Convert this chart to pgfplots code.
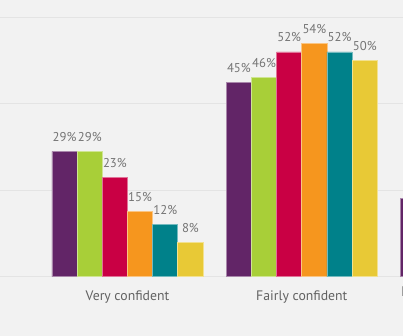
\documentclass[border=0pt]{standalone}
\usepackage{fontspec}
\setmainfont{PT Sans}
\usepackage{pgfplots}
\pgfplotsset{compat=1.18}
\definecolor{bg}{HTML}{F2F2F2}
\definecolor{c1}{HTML}{622567}
\definecolor{c2}{HTML}{A8CF38}
\definecolor{c3}{HTML}{C90044}
\definecolor{c4}{HTML}{F6961E}
\definecolor{c5}{HTML}{00818A}
\definecolor{c6}{HTML}{E8C936}
\definecolor{lbl}{HTML}{747474}
\definecolor{cat}{HTML}{626262}
\definecolor{grd}{HTML}{E4E4E4}
\begin{document}
\begin{tikzpicture}
\fill[bg] (0bp,-59.4bp) rectangle (403bp,276.6bp);
\begin{scope}
\clip (0bp,-59.4bp) rectangle (403bp,276.6bp);
\begin{axis}[
  at={(0bp,0bp)}, anchor=south west,
  scale only axis, width=403bp, height=276.6bp,
  xmin=-0.7315, xmax=1.5806, ymin=0, ymax=64,
  clip=false,
  axis line style={draw=none},
  tick style={draw=none},
  ytick={0,20,40,60}, yticklabels={},
  ymajorgrids, grid style={grd, line width=1bp},
  xtick={0,1}, xticklabels={Very confident, Fairly confident},
  xticklabel style={font=\fontsize{13.8}{15}\selectfont, text=cat, anchor=base, yshift=-20bp},
  ybar=0pt, bar width=25.17bp,
  point meta=explicit symbolic,
  nodes near coords,
  nodes near coords style={font=\fontsize{12.8}{14}\selectfont, text=lbl, anchor=base, yshift=10bp, inner sep=0pt},
]
\addplot[fill=c1, draw=c1!55!white, line width=0.7bp] coordinates {(0,29) [29\%] (1,45) [45\%] (2,18) []};
\addplot[fill=c2, draw=c2!55!white, line width=0.7bp] coordinates {(0,29) [29\%] (1,46) [46\%]};
\addplot[fill=c3, draw=c3!55!white, line width=0.7bp] coordinates {(0,23) [23\%] (1,52) [52\%]};
\addplot[fill=c4, draw=c4!55!white, line width=0.7bp] coordinates {(0,15) [15\%] (1,54) [54\%]};
\addplot[fill=c5, draw=c5!55!white, line width=0.7bp] coordinates {(0,12) [12\%] (1,52) [52\%]};
\addplot[fill=c6, draw=c6!55!white, line width=0.7bp] coordinates {(0,8) [8\%] (1,50) [50\%]};
\node[font=\fontsize{13.8}{15}\selectfont, text=cat, anchor=base west, inner sep=0pt] at (axis cs:2,0) [xshift=-75bp, yshift=-20bp] {Not very confident};
\end{axis}
\end{scope}
\pgfresetboundingbox
\path (0bp,-59.4bp) rectangle (403bp,276.6bp);
\end{tikzpicture}
\end{document}
